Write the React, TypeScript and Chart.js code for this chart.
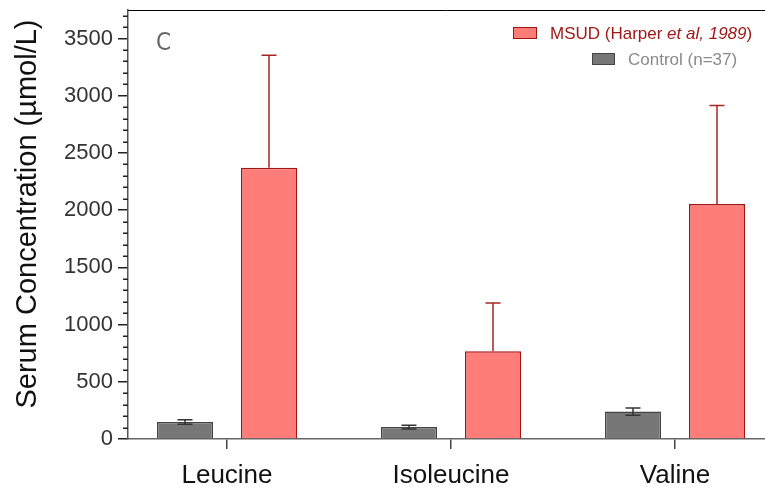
import React, { useEffect, useRef } from 'react';
import { Chart, registerables } from 'chart.js';

Chart.register(...registerables);

const categories = ['Leucine', 'Isoleucine', 'Valine'];
const controlMean = [148, 104, 240];
const controlErr = [20, 17, 32];
const msudMean = [2370, 766, 2055];
const msudErr = [985, 422, 860];
const yMax = 3750;
const yTickValues = [0, 500, 1000, 1500, 2000, 2500, 3000, 3500];
const yMinorStep = 100;
const yTitle = 'Serum Concentration (µmol/L)';
const panelLetter = 'C';
const legendMsud = ['MSUD (Harper ', 'et al, 1989', ')'];
const legendControl = 'Control (n=37)';

const FONT = '"Liberation Sans", Arial, Helvetica, sans-serif';
const MSUD_FILL = '#ff7d78';
const MSUD_BORDER = '#a31515';
const MSUD_ERR = '#a82525';
const CTRL_FILL = '#777777';
const CTRL_BORDER = '#444444';
const CTRL_ERR = '#333333';

const decorPlugin = {
  id: 'decor',
  afterDatasetsDraw(chart: any) {
    const ctx = chart.ctx;
    const y = chart.scales.y;
    const errs = [
      { err: controlErr, mean: controlMean, color: CTRL_ERR, both: true },
      { err: msudErr, mean: msudMean, color: MSUD_ERR, both: false },
    ];
    errs.forEach((e, di) => {
      const meta = chart.getDatasetMeta(di);
      meta.data.forEach((bar: any, i: number) => {
        const x = bar.x;
        const top = y.getPixelForValue(e.mean[i] + e.err[i]);
        const base = e.both ? y.getPixelForValue(e.mean[i] - e.err[i]) : y.getPixelForValue(e.mean[i]);
        ctx.save();
        ctx.strokeStyle = e.color;
        ctx.lineWidth = 1.5;
        ctx.beginPath();
        ctx.moveTo(x, base);
        ctx.lineTo(x, top);
        ctx.moveTo(x - 7.5, top);
        ctx.lineTo(x + 7.5, top);
        if (e.both) {
          ctx.moveTo(x - 7.5, base);
          ctx.lineTo(x + 7.5, base);
        }
        ctx.stroke();
        ctx.restore();
      });
    });
  },
  afterDraw(chart: any) {
    const ctx = chart.ctx;
    const area = chart.chartArea;
    const y = chart.scales.y;
    ctx.save();
    // minor ticks
    ctx.strokeStyle = '#222';
    ctx.lineWidth = 1.5;
    ctx.beginPath();
    for (let v = yMinorStep; v < yMax; v += yMinorStep) {
      if (yTickValues.includes(v)) continue;
      const py = Math.round(y.getPixelForValue(v)) + 0.25;
      ctx.moveTo(area.left - 5, py);
      ctx.lineTo(area.left, py);
    }
    ctx.stroke();
    // top border
    ctx.strokeStyle = '#000';
    ctx.lineWidth = 1;
    ctx.beginPath();
    ctx.moveTo(area.left, area.top + 0.5);
    ctx.lineTo(area.right, area.top + 0.5);
    ctx.stroke();
    // y title
    ctx.save();
    ctx.translate(27.5, 214);
    ctx.rotate(-Math.PI / 2);
    ctx.fillStyle = '#111';
    ctx.font = `29px ${FONT}`;
    ctx.textAlign = 'center';
    ctx.textBaseline = 'middle';
    ctx.fillText(yTitle, 0, 0);
    ctx.restore();
    // panel letter
    ctx.fillStyle = '#666';
    ctx.font = '24px "Liberation Sans Narrow", "DejaVu Sans Condensed", Arial, sans-serif';
    ctx.textAlign = 'left';
    ctx.textBaseline = 'alphabetic';
    ctx.fillText(panelLetter, area.left + 28, area.top + 40);
    // legend
    const r = area.right;
    ctx.lineWidth = 1;
    ctx.fillStyle = MSUD_FILL;
    ctx.strokeStyle = MSUD_BORDER;
    ctx.fillRect(r - 252, 27, 24, 12);
    ctx.strokeRect(r - 251.5, 27.5, 23, 11);
    ctx.fillStyle = CTRL_FILL;
    ctx.strokeStyle = CTRL_BORDER;
    ctx.fillRect(r - 173, 53, 23, 12);
    ctx.strokeRect(r - 172.5, 53.5, 22, 11);
    ctx.textBaseline = 'middle';
    let tx = r - 215;
    ctx.fillStyle = '#a01818';
    legendMsud.forEach((part, i) => {
      ctx.font = `${i === 1 ? 'italic ' : ''}17px ${FONT}`;
      ctx.fillText(part, tx, 34);
      tx += ctx.measureText(part).width;
    });
    ctx.fillStyle = '#8a8a8a';
    ctx.font = `17px ${FONT}`;
    ctx.fillText(legendControl, r - 137, 60);
    ctx.restore();
  },
};

export default function App() {
  const ref = useRef<HTMLCanvasElement>(null);
  useEffect(() => {
    if (!ref.current) return;
    const chart = new Chart(ref.current, {
      type: 'bar',
      data: {
        datasets: [
          {
            label: legendControl,
            data: categories.map((_, i) => ({ x: i, y: controlMean[i] })),
            backgroundColor: CTRL_FILL,
            borderColor: CTRL_BORDER,
            borderWidth: 1.5,
            categoryPercentage: 0.75,
            barPercentage: 0.667,
          },
          {
            label: 'MSUD',
            data: categories.map((_, i) => ({ x: i, y: msudMean[i] })),
            backgroundColor: MSUD_FILL,
            borderColor: MSUD_BORDER,
            borderWidth: 1.5,
            categoryPercentage: 0.75,
            barPercentage: 0.667,
          },
        ],
      },
      options: {
        responsive: false,
        animation: false,
        layout: { padding: { top: 10, left: 0, right: 0, bottom: 0 } },
        plugins: { legend: { display: false }, tooltip: { enabled: false } },
        scales: {
          x: {
            type: 'linear',
            offset: false,
            bounds: 'data',
            min: -99 / 224,
            max: -99 / 224 + 637 / 224,
            afterBuildTicks: (s: any) => {
              s.ticks = categories.map((_, i) => ({ value: i }));
            },
            afterFit: (s: any) => {
              s.height = 52;
              s.paddingLeft = 0;
              s.paddingRight = 0;
            },
            ticks: {
              callback: (v: any) => categories[Math.round(v as number)] ?? '',
              font: { size: 26, family: FONT },
              color: '#111',
              padding: 11,
              maxRotation: 0,
              autoSkip: false,
            },
            grid: {
              display: true,
              offset: false,
              drawOnChartArea: false,
              drawTicks: true,
              tickLength: 10,
              color: '#444',
              lineWidth: 1.5,
            },
            border: { display: true, color: '#666', width: 1.5 },
          },
          y: {
            type: 'linear',
            bounds: 'data',
            min: 0,
            max: yMax,
            afterBuildTicks: (s: any) => {
              s.ticks = yTickValues.map((v) => ({ value: v }));
            },
            afterFit: (s: any) => {
              s.width = 128;
              s.paddingTop = 0;
              s.paddingBottom = 0;
            },
            ticks: {
              callback: (v: any) => String(v),
              autoSkip: false,
              font: { size: 22, family: FONT },
              color: '#333',
              padding: 5,
            },
            grid: {
              display: true,
              drawOnChartArea: false,
              drawTicks: true,
              tickLength: 10,
              color: '#222',
              lineWidth: 1.5,
            },
            border: { display: true, color: '#555', width: 1.5 },
          },
        },
      },
      plugins: [decorPlugin],
    } as any);
    return () => chart.destroy();
  }, []);
  return (
    <div style={{ position: 'absolute', left: 0, top: 0, width: 765, height: 491, background: '#fff' }}>
      <canvas ref={ref} width={765} height={491} style={{ display: 'block' }} />
    </div>
  );
}
